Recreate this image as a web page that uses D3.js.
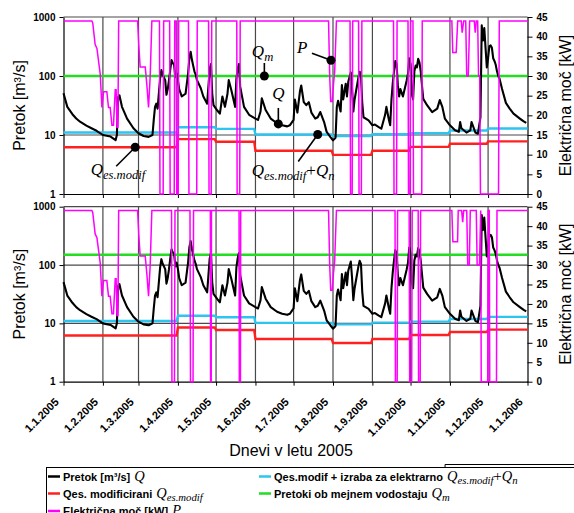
<!DOCTYPE html>
<html>
<head>
<meta charset="utf-8">
<script src="https://cdn.jsdelivr.net/npm/d3@7"></script>
<style>
  body { margin: 0; background: #fff; }
  svg text { font-family: Arial, "Liberation Sans", sans-serif; }
</style>
</head>
<body>
<svg id="chart" width="574" height="513"></svg>
<script>
// ---- values ----
const monthLabels = ["1.1.2005", "1.2.2005", "1.3.2005", "1.4.2005", "1.5.2005", "1.6.2005", "1.7.2005",
  "1.8.2005", "1.9.2005", "1.10.2005", "1.11.2005", "1.12.2005", "1.1.2006"];

// monthly values, Jan..Dec
const qesModif = [6.2, 6.2, 6.2, 8.5, 7.7, 5.4, 5.4, 4.6, 5.4, 6.3, 7.1, 7.8];
const qesPlusQn = [11, 11, 11, 13.5, 12.7, 10.2, 10.2, 9.6, 10.3, 10.7, 11.9, 12.9];

const qmTop = 100;
const qmBottom = 150;

// daily flow Q [m3/s]: [day of year (0 = 1 Jan), value]
const flow = [
  [0, 51], [3, 30], [7, 22.5], [10, 19], [13, 16.8], [18, 14.4], [22, 13], [26, 11.8], [31, 10], [37, 9.4],
  [41, 8.2], [42, 10], [43, 44], [44, 47], [46, 30], [50, 19], [55, 13], [59, 10.7], [63, 9.6], [67, 9.3],
  [70, 10], [71, 18], [72, 30], [73, 34], [74, 28], [76, 90], [77, 126], [78, 105], [80, 85], [81, 48],
  [82, 60], [83, 85], [84, 130], [85, 186], [86, 165], [87, 155], [88, 95], [89, 110], [90, 85], [91, 60],
  [93, 45], [96, 50], [98, 110], [99, 200], [100, 258], [101, 190], [102, 150], [103, 120], [104, 105], [105, 85],
  [108, 62], [110, 45], [113, 34], [115, 130], [116, 160], [117, 50], [118, 32], [121, 26], [123, 23], [125, 45],
  [127, 30], [129, 50], [130, 85], [132, 58], [135, 30], [136, 90], [137, 130], [138, 160], [139, 66], [142, 30],
  [146, 22], [151, 19], [153, 18], [155, 25], [156, 42], [159, 26.5], [163, 19], [168, 15.8], [172, 14.6], [176, 14],
  [178, 14.6], [181, 18], [182, 40], [184, 24], [186, 55], [187, 69], [189, 36], [191, 32], [193, 36], [195, 24],
  [198, 19], [200, 20], [202, 24.5], [205, 16.6], [207, 11.3], [210, 9.2], [212, 8.1], [214, 9], [215, 30], [216, 38],
  [218, 25], [219, 70], [220, 40], [222, 74], [223, 45], [224, 80], [226, 115], [227, 60], [228, 25], [229, 40],
  [232, 95], [233, 118], [234, 105], [235, 35], [236, 20], [240, 17.7], [243, 14.6], [245, 15], [248, 13.6], [250, 12.8],
  [253, 22], [254, 30], [256, 18], [257, 14.6], [258, 40], [259, 75], [260, 120], [261, 180], [262, 160], [263, 70],
  [264, 45], [265, 60], [267, 45], [270, 85], [271, 110], [272, 200], [273, 160], [274, 50], [275, 40], [276, 120],
  [277, 150], [278, 140], [279, 195], [280, 170], [281, 120], [282, 69], [283, 41], [286, 32], [290, 24.5], [294, 28],
  [296, 39], [298, 30], [300, 19], [304, 14.6], [308, 12], [311, 11.3], [312, 16.6], [313, 13], [317, 11], [320, 12],
  [321, 16.6], [324, 11], [326, 10.5], [328, 20], [329, 720], [330, 400], [331, 650], [332, 300], [333, 140], [334, 200],
  [335, 320], [336, 330], [337, 300], [338, 200], [339, 180], [340, 155], [341, 120], [342, 100], [343, 90], [345, 60],
  [348, 35], [351, 28], [354, 23], [359, 19], [362, 17], [364, 16]
];

// electric power P [kW]: [day of year, value]
const powerJanMar = [
  [0, 44], [22.3, 44], [23, 43.5], [24.9, 38], [26.3, 37], [28.9, 30.5], [30.2, 22], [31.5, 26], [34.1, 26], [35.4, 22],
  [36.7, 22], [38.1, 17.5], [39.3, 17.5], [40.7, 26.5], [41.4, 26.5], [42.1, 17], [42.8, 17], [43.4, 44],
  [58.3, 44], [59.2, 38], [60.3, 32.3], [64.3, 32.3], [65.6, 27.6], [66.9, 22], [68.2, 30], [69.5, 44]
];
const powerTop = powerJanMar.concat([
  [75.5, 44], [75.9, 0], [78.4, 0], [78.8, 44], [83.5, 44], [83.9, 0], [87.1, 0], [87.5, 44], [88.7, 44], [89.1, 0],
  [90.2, 0], [90.6, 44], [98.3, 44], [98.7, 0], [104.8, 0], [105.2, 44], [114.1, 44], [114.5, 0], [116.2, 0], [116.6, 44],
  [136.3, 44], [136.6, 0], [138.6, 0], [139, 44],
  [208.5, 44], [209.4, 30], [210.2, 23.5], [211.4, 23.5], [212.4, 28], [213.3, 31], [214.7, 44],
  [225.4, 44], [225.8, 0], [227.1, 0], [227.5, 44], [232.1, 44], [232.5, 0], [234.3, 0], [234.7, 44],
  [259.6, 44], [260, 0], [262, 0], [262.4, 44], [271, 44], [271.4, 0], [272.6, 0], [273, 44], [274.9, 44], [275.3, 0],
  [281.8, 0], [282.2, 44], [305.5, 44], [306.2, 36], [308.9, 36], [310.1, 44], [312.9, 44], [313.6, 41], [314.8, 44],
  [316.4, 44], [317.2, 30], [318.4, 30], [319.5, 44], [323.1, 44], [323.9, 41], [324.7, 44], [325.8, 44], [326.5, 30],
  [327.4, 30], [328, 0], [342.2, 0], [342.8, 44], [365, 44]
]);
const powerBottom = powerJanMar.concat([
  [85, 44], [85.3, 0], [87.3, 0], [87.7, 44], [99.5, 44], [99.9, 0], [101.9, 0], [102.3, 44], [115.5, 44], [115.7, 0],
  [116.2, 0], [116.4, 44], [138.1, 44], [138.3, 0], [139.2, 0], [139.4, 44],
  [208.5, 44], [209.4, 30], [210.2, 23.5], [211.4, 23.5], [212.4, 28], [213.3, 31], [214.7, 44],
  [260.8, 44], [261.1, 0], [262.5, 0], [262.8, 44], [271.9, 44], [272.3, 0], [273.9, 0], [274.3, 44], [279, 44],
  [279.3, 0], [280.6, 0], [280.9, 44], [305.5, 44], [306.3, 36], [310, 36], [310.5, 44], [313.2, 44], [314, 41],
  [314.8, 44], [317.2, 44], [318, 30], [319.2, 30], [320, 44], [324.7, 44], [325.4, 30], [327.2, 30], [328.2, 44],
  [328.6, 0], [333.7, 0], [334.1, 44], [334.9, 44], [335.3, 0], [340.6, 0], [341, 44], [365, 44]
]);

// ---- drawing ----
const svg = d3.select("#chart");
const t0 = Date.UTC(2005, 0, 1);
const toDate = d => new Date(t0 + d * 864e5);
const months = d3.utcMonth.range(new Date(t0), new Date(Date.UTC(2006, 0, 2)));

const x = d3.scaleUtc().domain([months[0], months[12]]).range([63.5, 527.5]);

const colQ = "#000", colQes = "#ff2020", colQn = "#2ec4f0", colQm = "#22dd22", colP = "#ff00ff";
const serif = "'Liberation Serif', 'Times New Roman', serif";

function monthSteps(vals) {
  const pts = [];
  vals.forEach((v, i) => {
    pts.push([months[i], v]);
    pts.push([i === 11 ? months[12] : d3.utcDay.offset(months[i + 1], -1), v]);
  });
  return pts;
}

// italic math label like Q_es.modif
function mathText(sel, px, py, parts, size) {
  const t = sel.append("text").attr("x", px).attr("y", py)
    .style("font-family", serif).attr("font-size", size);
  let down = false;
  parts.forEach(p => {
    const s = t.append("tspan").text(p.t);
    if (p.sub) {
      s.attr("font-size", size * 0.74).attr("font-style", "italic");
      if (!down) s.attr("dy", size * 0.22);
      down = true;
    } else {
      s.attr("font-style", p.up ? "normal" : "italic");
      if (down) s.attr("dy", -size * 0.22);
      down = false;
    }
  });
  return t;
}

const panels = [
  {top: 17, bottom: 194, qm: qmTop, power: powerTop, notes: true},
  {top: 206.7, bottom: 381.7, qm: qmBottom, power: powerBottom, dates: true}
];

panels.forEach(p => {
  const yQ = d3.scaleLog().domain([1, 1000]).range([p.bottom, p.top]);
  const yP = d3.scaleLinear().domain([0, 45]).range([p.bottom, p.top]);
  const g = svg.append("g");

  // grid
  g.append("g").selectAll("line").data(months.slice(1, 12)).join("line")
    .attr("x1", d => x(d)).attr("x2", d => x(d))
    .attr("y1", p.top).attr("y2", p.bottom)
    .attr("stroke", "#4a4a4a").attr("stroke-width", 1.2);
  g.append("g").selectAll("line").data([10, 100, 1000]).join("line")
    .attr("x1", x.range()[0]).attr("x2", x.range()[1])
    .attr("y1", d => yQ(d)).attr("y2", d => yQ(d))
    .attr("stroke", "#4a4a4a").attr("stroke-width", 1.2);

  // axes
  const axL = g.append("g").attr("transform", `translate(${x.range()[0]},0)`)
    .call(d3.axisLeft(yQ).tickValues([1, 10, 100, 1000]).tickFormat(d => d)
      .tickSize(4).tickSizeOuter(0).tickPadding(4));
  const axR = g.append("g").attr("transform", `translate(${x.range()[1]},0)`)
    .call(d3.axisRight(yP).tickValues(d3.range(0, 46, 5))
      .tickSize(5).tickSizeOuter(0).tickPadding(4));
  const axB = g.append("g").attr("transform", `translate(0,${p.bottom})`)
    .call(d3.axisBottom(x).tickValues(months).tickFormat(() => "")
      .tickSize(4).tickSizeOuter(0));
  [axL, axR, axB].forEach(a => {
    a.attr("font-family", null).attr("font-size", 10).attr("font-weight", "bold");
    a.select(".domain").attr("stroke", "#000").attr("stroke-width", 1.2);
    a.selectAll(".tick line").attr("stroke", "#000");
  });

  // series
  const lineQ = d3.line().x(d => x(d[0])).y(d => yQ(d[1]));
  g.append("path").datum(monthSteps(qesModif)).attr("d", lineQ)
    .attr("fill", "none").attr("stroke", colQes).attr("stroke-width", 2.4);
  g.append("path").datum(monthSteps(qesPlusQn)).attr("d", lineQ)
    .attr("fill", "none").attr("stroke", colQn).attr("stroke-width", 2.4);
  g.append("path").datum([[months[0], p.qm], [months[12], p.qm]]).attr("d", lineQ)
    .attr("fill", "none").attr("stroke", colQm).attr("stroke-width", 2.4);
  g.append("path").datum(flow.map(d => [toDate(d[0]), d[1]])).attr("d", lineQ)
    .attr("fill", "none").attr("stroke", colQ).attr("stroke-width", 2.1)
    .attr("stroke-linejoin", "round");
  g.append("path").datum(p.power)
    .attr("d", d3.line().x(d => x(toDate(d[0]))).y(d => yP(d[1])))
    .attr("fill", "none").attr("stroke", colP).attr("stroke-width", 1.5);

  // axis titles
  svg.append("text").attr("transform", `translate(19,${(p.top + p.bottom) / 2}) rotate(-90)`)
    .attr("text-anchor", "middle").attr("dy", "0.35em").attr("font-size", 16)
    .text("Pretok [m³/s]");
  svg.append("text").attr("transform", `translate(565.5,${(p.top + p.bottom) / 2}) rotate(-90)`)
    .attr("text-anchor", "middle").attr("dy", "0.35em").attr("font-size", 16)
    .text("Električna moč [kW]");

  if (p.dates) {
    svg.append("g").selectAll("text").data(months).join("text")
      .attr("transform", (d, i) => `translate(${x(d) - 4},${p.bottom + 21}) rotate(-45)`)
      .attr("text-anchor", "end").attr("font-size", 11).attr("font-weight", "bold")
      .text((d, i) => monthLabels[i]);
  }

  if (p.notes) {
    const notes = [
      {day: 56.4, y: yQ(qesModif[1]), lx: -19, ly: 19, tx: -44.5, ty: 28,
        parts: [{t: "Q"}, {t: "es.modif", sub: true}]},
      {day: 158, y: yQ(p.qm), lx: 0, ly: -13, tx: -12.5, ty: -19,
        parts: [{t: "Q"}, {t: "m", sub: true}]},
      {day: 169, y: yQ(15.4), lx: 0, ly: -16, tx: -6, ty: -25,
        parts: [{t: "Q"}]},
      {day: 210.4, y: yP(34), lx: -19, ly: -7, tx: -34, ty: -7,
        parts: [{t: "P"}]},
      {day: 200, y: yQ(qesPlusQn[6]), lx: -19.5, ly: 27, tx: -66, ty: 41.5,
        parts: [{t: "Q"}, {t: "es.modif", sub: true}, {t: "+", up: true}, {t: "Q"}, {t: "n", sub: true}]}
    ];
    notes.forEach(n => {
      const cx = x(toDate(n.day));
      g.append("line").attr("x1", cx).attr("y1", n.y).attr("x2", cx + n.lx).attr("y2", n.y + n.ly)
        .attr("stroke", "#000").attr("stroke-width", 1.6);
      g.append("circle").attr("cx", cx).attr("cy", n.y).attr("r", 4.5).attr("fill", "#000");
      mathText(g, cx + n.tx, n.y + n.ty, n.parts, 17);
    });
  }
});

// x title
svg.append("text").attr("x", 291).attr("y", 456).attr("text-anchor", "middle")
  .attr("font-size", 16).text("Dnevi v letu 2005");

// legend
const lg = svg.append("g");
lg.append("rect").attr("x", 46.5).attr("y", 467.5).attr("width", 560).attr("height", 60)
  .attr("fill", "#fff").attr("stroke", "#000");
const legendItems = [
  {col: 0, row: 0, color: colQ, text: "Pretok [m³/s]", parts: [{t: "Q"}]},
  {col: 0, row: 1, color: colQes, text: "Qes. modificirani", parts: [{t: "Q"}, {t: "es.modif", sub: true}]},
  {col: 0, row: 2, color: colP, text: "Električna moč [kW]", parts: [{t: "P"}]},
  {col: 1, row: 0, color: colQn, text: "Qes.modif + izraba za elektrarno",
    parts: [{t: "Q"}, {t: "es.modif", sub: true}, {t: "+", up: true}, {t: "Q"}, {t: "n", sub: true}], box: true},
  {col: 1, row: 1, color: colQm, text: "Pretoki ob mejnem vodostaju", parts: [{t: "Q"}, {t: "m", sub: true}]}
];
const colX = [48, 259], rowY = [476.5, 493.5, 511];
legendItems.forEach(it => {
  const lx = colX[it.col], ly = rowY[it.row];
  lg.append("line").attr("x1", lx).attr("x2", lx + 12).attr("y1", ly).attr("y2", ly)
    .attr("stroke", it.color).attr("stroke-width", 2.5);
  const t = lg.append("text").attr("x", lx + 15).attr("y", ly + 4)
    .attr("font-size", 11).attr("font-weight", "bold").text(it.text);
  const mx = lx + 15 + t.node().getComputedTextLength() + 4;
  if (it.box) {
    lg.append("path").attr("d", `M${mx - 2},${467.5}V${464.5}H${580}`)
      .attr("fill", "none").attr("stroke", "#000");
  }
  mathText(lg, mx, ly + 4, it.parts, 14.5);
});
</script>
</body>
</html>
